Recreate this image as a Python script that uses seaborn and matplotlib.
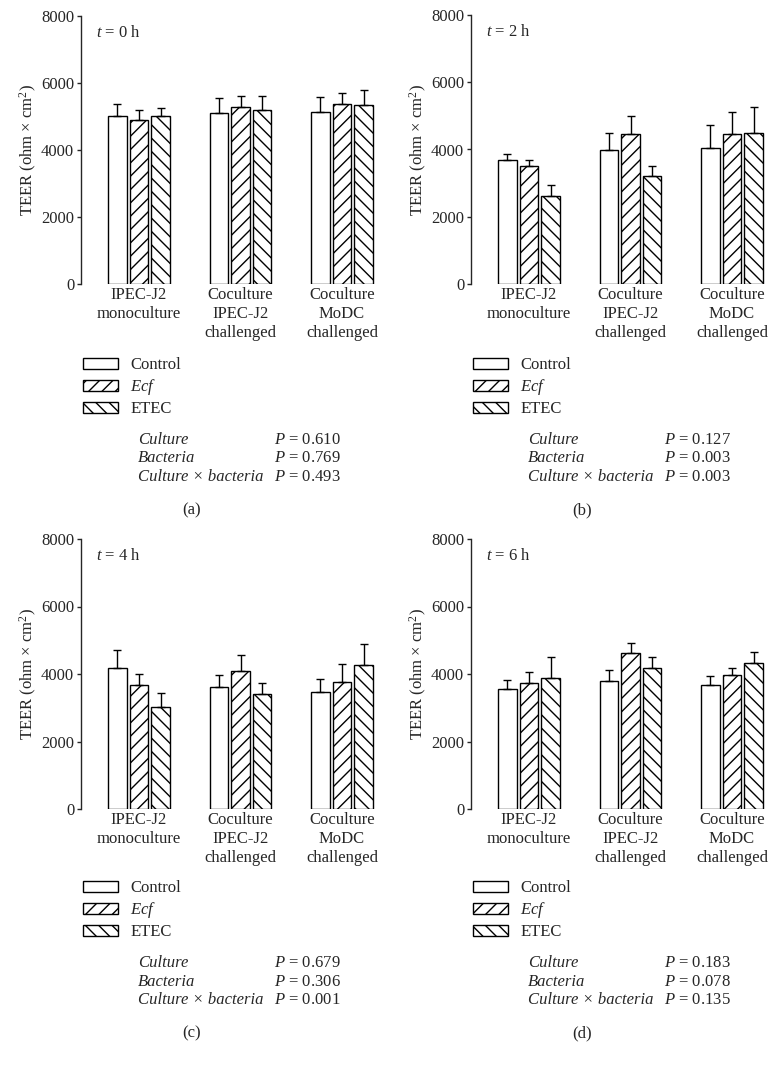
import numpy as np
import pandas as pd
import matplotlib
matplotlib.use('Agg')
import matplotlib.pyplot as plt
import seaborn as sns
from matplotlib.patches import Patch

# data (TEER, ohm x cm2), rows = culture, cols = treatment
cultures = ['IPEC-J2\nmonoculture', 'Coculture\nIPEC-J2\nchallenged', 'Coculture\nMoDC\nchallenged']
treatments = ['Control', 'Ecf', 'ETEC']
times = [0, 2, 4, 6]
tags = ['(a)', '(b)', '(c)', '(d)']

mean_0h = [[5020, 4890, 5000], [5100, 5270, 5200], [5130, 5360, 5350]]
sem_0h = [[340, 300, 260], [440, 350, 420], [440, 350, 450]]
mean_2h = [[3700, 3500, 2610], [3980, 4460, 3210], [4030, 4450, 4490]]
sem_2h = [[170, 190, 330], [500, 550, 290], [700, 670, 760]]
mean_4h = [[4180, 3680, 3010], [3620, 4100, 3400], [3475, 3770, 4280]]
sem_4h = [[540, 320, 440], [360, 450, 340], [375, 520, 620]]
mean_6h = [[3545, 3740, 3870], [3790, 4620, 4190], [3660, 3980, 4340]]
sem_6h = [[290, 320, 640], [340, 300, 320], [270, 210, 300]]

p_culture = ['0.610', '0.127', '0.679', '0.183']
p_bacteria = ['0.769', '0.003', '0.306', '0.078']
p_inter = ['0.493', '0.003', '0.001', '0.135']

means = [mean_0h, mean_2h, mean_4h, mean_6h]
sems = [sem_0h, sem_2h, sem_4h, sem_6h]

sns.set_style('ticks')
plt.rcParams['font.family'] = ['Liberation Serif', 'DejaVu Serif']
plt.rcParams['mathtext.fontset'] = 'custom'
plt.rcParams['mathtext.rm'] = 'Liberation Serif'
plt.rcParams['mathtext.it'] = 'Liberation Serif:italic'
plt.rcParams['hatch.linewidth'] = 0.5

W, H = 778, 1065
fs = 6.0
hatches = ['', '/////', '\\\\\\\\\\']

fig = plt.figure(figsize=(W / 200, H / 200), dpi=200)

def fx(px):
    return px / W

def fy(py):
    return 1 - py / H

# pixel layout of each panel: (axes left, axes top, axes bottom, x offset, y offset)
panels = [(81, 16, 284, 0, 0), (471, 15, 284, 390, 0),
          (81, 539, 809, 0, 523), (471, 539, 809, 390, 523)]

for i, (left, top, bottom, dx, dy) in enumerate(panels):
    ax = fig.add_axes([fx(left), fy(bottom), 299 / W, (bottom - top) / H])
    rows = []
    for ci, c in enumerate(cultures):
        for ti, t in enumerate(treatments):
            rows.append({'culture': c, 'treatment': t, 'teer': means[i][ci][ti]})
    df = pd.DataFrame(rows)
    sns.barplot(data=df, x='culture', y='teer', hue='treatment', order=cultures,
                hue_order=treatments, palette=['white'] * 3, edgecolor='black',
                linewidth=0.5, width=0.64, gap=0.15, errorbar=None, legend=False, ax=ax)

    bar_groups = list(ax.containers)
    for ti, cont in enumerate(bar_groups):
        for ci, bar in enumerate(cont):
            bar.set_hatch(hatches[ti])
            xc = bar.get_x() + bar.get_width() / 2
            ax.errorbar(xc, bar.get_height(), yerr=[[0], [sems[i][ci][ti]]],
                        color='black', lw=0.5, capsize=1.45, capthick=0.5, zorder=1)

    ax.set_ylim(0, 8000)
    ax.set_yticks([0, 2000, 4000, 6000, 8000])
    ax.set_xlim(-0.571, 2.374)
    ax.set_xticks([0, 1, 2])
    ax.set_xticklabels(cultures, fontsize=fs, linespacing=1.22)
    ax.tick_params(axis='x', length=0, pad=1.2)
    ax.tick_params(axis='y', length=1.44, width=0.5, pad=1, labelsize=fs)
    for s in ['top', 'right', 'bottom']:
        ax.spines[s].set_visible(False)
    ax.spines['left'].set_linewidth(0.5)
    ax.set_xlabel('')
    ax.set_ylabel('TEER (ohm × cm$^2$)', fontsize=fs)
    ax.yaxis.set_label_coords(-0.14, 0.5)
    ax.text(0.05, 0.937, '$t$ = %d h' % times[i], transform=ax.transAxes,
            fontsize=fs, ha='left', va='center')

    handles = [Patch(facecolor='white', edgecolor='black', linewidth=0.5, hatch=h)
               for h in hatches]
    ax.legend(handles, ['Control', '$Ecf$', 'ETEC'], loc='upper left',
              bbox_to_anchor=(fx(dx + 83), fy(dy + 357)), bbox_transform=fig.transFigure,
              frameon=False, fontsize=fs, borderpad=0, borderaxespad=0,
              handlelength=2.1, handleheight=0.65, handletextpad=0.75, labelspacing=0.25)

    labels = ['Culture', 'Bacteria', 'Culture × bacteria']
    pvals = [p_culture[i], p_bacteria[i], p_inter[i]]
    for k, (lab, pv) in enumerate(zip(labels, pvals)):
        yk = dy + 440 + k * 18.5
        fig.text(fx(dx + 138), fy(yk), lab, fontsize=fs, style='italic',
                 ha='left', va='center')
        fig.text(fx(dx + 274), fy(yk), '$P$ = ' + pv, fontsize=fs,
                 ha='left', va='center')
    fig.text(fx(dx + 192), fy(dy + 510), tags[i], fontsize=fs, ha='center', va='center')

fig.savefig('out.png', dpi=200)
